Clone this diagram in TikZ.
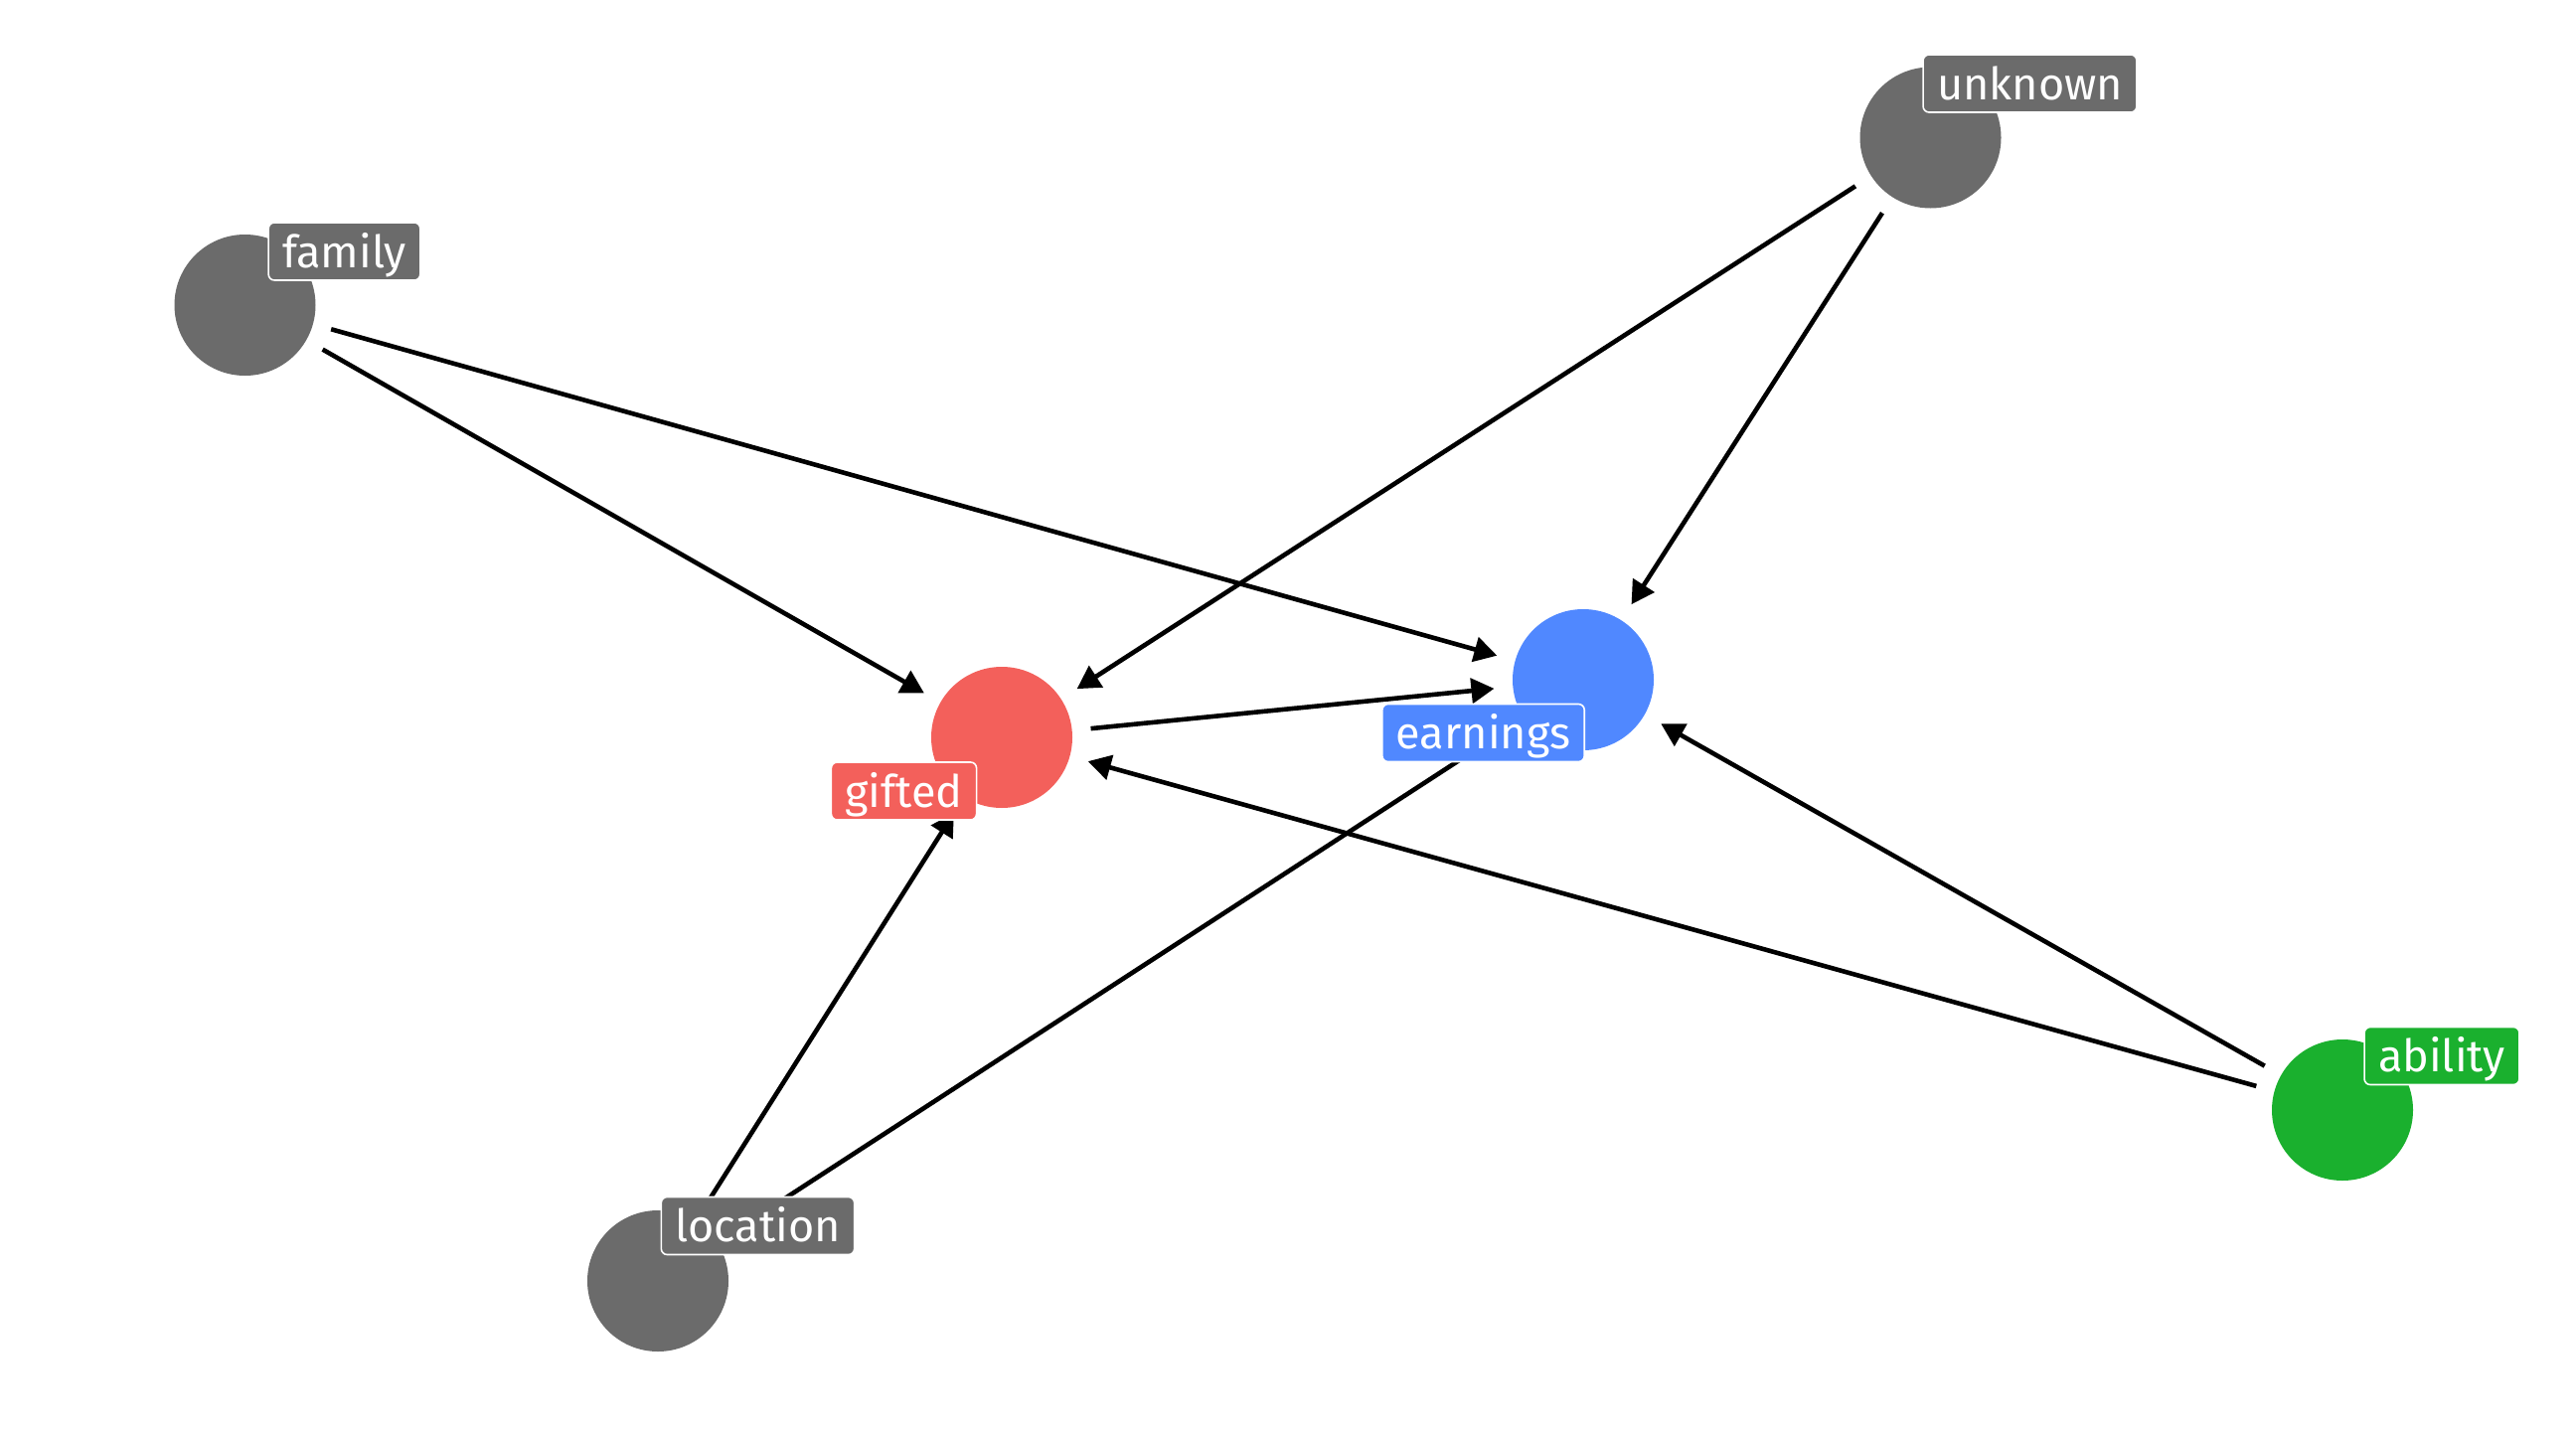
\documentclass[tikz,border=0pt]{standalone}
\usepackage{fontspec}
\setmainfont{Fira Sans}
\usetikzlibrary{arrows.meta}
\definecolor{cgray}{HTML}{6B6B6B}
\definecolor{cred}{HTML}{F3605B}
\definecolor{cblue}{HTML}{5088FF}
\definecolor{cgreen}{HTML}{1AB02E}
\begin{document}
\begin{tikzpicture}[x=0.5pt,y=-0.5pt,
  vnode/.style={circle,minimum size=71pt,inner sep=0pt,outer sep=9.5pt},
  lab/.style={rounded corners=3pt, draw=white, line width=0.8pt, text=white,
    font=\fontsize{22.5pt}{27pt}\selectfont, minimum height=29pt,
    inner xsep=7pt, inner ysep=0pt, text height=20pt, text depth=4pt},
  edge/.style={line width=2.3pt, -{Triangle[length=11.5pt,width=12.5pt]}}]
\useasboundingbox[fill=white] (0,0) rectangle (2592,1440);
% variable nodes
\node[vnode, fill=cgray]  (family)   at (246.5,307) {};
\node[vnode, fill=cgray]  (unknown)  at (1942.5,138.5) {};
\node[vnode, fill=cred]   (gifted)   at (1008,742) {};
\node[vnode, fill=cblue]  (earnings) at (1593,684) {};
\node[vnode, fill=cgreen] (ability)  at (2357,1117) {};
\node[vnode, fill=cgray]  (location) at (662,1289) {};
% edges
\draw[edge] (family) -- (gifted);
\draw[edge] (family) -- (earnings);
\draw[edge] (unknown) -- (gifted);
\draw[edge] (unknown) -- (earnings);
\draw[edge] (gifted) -- (earnings);
\draw[edge] (location) -- (gifted);
\draw[edge] (location) -- (earnings);
\draw[edge] (ability) -- (gifted);
\draw[edge] (ability) -- (earnings);
% labels
\node[lab, fill=cgray]  (lfamily)   at (346.5,253)    {family};
\node[lab, fill=cgray]  (lunknown)  at (2042.5,84)    {unknown};
\node[lab, fill=cred]   (lgifted)   at (909.5,796)    {gifted};
\node[lab, fill=cblue]  (learnings) at (1492.5,737.5) {earnings};
\node[lab, fill=cgreen] (lability)  at (2457,1062.5)  {ability};
\node[lab, fill=cgray]  (llocation) at (762.5,1233.5) {location};
\end{tikzpicture}
\end{document}
